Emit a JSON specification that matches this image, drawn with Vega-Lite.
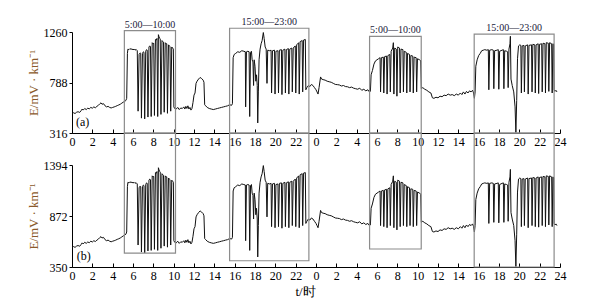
{
"$schema": "https://vega.github.io/schema/vega-lite/v6.json",
"padding": {"left": 27, "top": 17, "right": 5, "bottom": 2},
"config": {"view": {"stroke": null}, "font": "Liberation Serif",
 "axis": {"grid": false, "domainColor": "#000", "tickColor": "#000", "labelColor": "#000", "labelFont": "Liberation Serif", "labelFontSize": 12, "titleFont": "Liberation Serif", "titleFontWeight": "normal"},
 "axisX": {"labelOverlap": false, "labelFlush": false, "tickSize": -4, "labelPadding": 7}},
"spacing": 32,
"bounds": "flush",
"datasets": {
"boxes": [
 {"t1": 5.15, "t2": 10.18, "tm": 7.665, "topA": 1272, "botB": 493, "topB": 1720, "label": "5:00—10:00"},
 {"t1": 15.5, "t2": 23.3, "tm": 19.4, "topA": 1295, "botB": 414, "topB": 1720, "label": "15:00—23:00"},
 {"t1": 29.27, "t2": 34.35, "tm": 31.81, "topA": 1220, "botB": 534, "topB": 1720, "label": "5:00—10:00"},
 {"t1": 39.56, "t2": 47.42, "tm": 43.49, "topA": 1241, "botB": 350, "topB": 1720, "label": "15:00—23:00"}
],
"s": [
{"t":0.0,"a":500,"b":553},{"t":0.15,"a":505,"b":559},{"t":0.3,"a":498,"b":551},{"t":0.45,"a":510,"b":564},{"t":0.6,"a":515,"b":570},{"t":0.75,"a":508,"b":562},{"t":0.9,"a":525,"b":581},{"t":1.0,"a":540,"b":597},{"t":1.1,"a":530,"b":586},{"t":1.25,"a":545,"b":603},{"t":1.4,"a":535,"b":592},{"t":1.55,"a":548,"b":606},{"t":1.7,"a":542,"b":599},{"t":1.85,"a":555,"b":614},{"t":2.0,"a":548,"b":606},{"t":2.15,"a":560,"b":619},{"t":2.3,"a":552,"b":611},{"t":2.45,"a":565,"b":625},{"t":2.6,"a":575,"b":636},{"t":2.75,"a":590,"b":653},{"t":2.85,"a":598,"b":661},{"t":2.95,"a":585,"b":647},{"t":3.1,"a":590,"b":653},{"t":3.25,"a":570,"b":630},{"t":3.4,"a":560,"b":619},{"t":3.55,"a":565,"b":625},{"t":3.7,"a":555,"b":614},{"t":3.85,"a":550,"b":608},{"t":4.0,"a":555,"b":614},{"t":4.15,"a":560,"b":619},{"t":4.3,"a":565,"b":625},{"t":4.45,"a":572,"b":633},{"t":4.6,"a":578,"b":639},{"t":4.75,"a":585,"b":647},{"t":4.9,"a":595,"b":658},{"t":5.05,"a":605,"b":669},{"t":5.2,"a":612,"b":677},{"t":5.3,"a":620,"b":686},{"t":5.38,"a":640,"b":708},{"t":5.45,"a":1060,"b":1172},{"t":5.5,"a":1100,"b":1217},{"t":5.6,"a":1095,"b":1211},{"t":5.7,"a":1105,"b":1222},{"t":5.8,"a":1098,"b":1214},{"t":5.9,"a":1102,"b":1219},{"t":6.0,"a":1093,"b":1209},{"t":6.1,"a":1100,"b":1217},{"t":6.2,"a":1090,"b":1206},{"t":6.3,"a":1098,"b":1214},{"t":6.42,"a":1085,"b":1200},
{"t":6.5,"a":520,"b":575},{"t":6.6,"a":1050,"b":1161},{"t":6.7,"a":1065,"b":1178},{"t":6.76,"a":1060,"b":1172},{"t":6.83,"a":455,"b":503},{"t":6.93,"a":1060,"b":1172},{"t":7.02,"a":1075,"b":1189},{"t":7.08,"a":1070,"b":1183},{"t":7.15,"a":448,"b":495},{"t":7.25,"a":1080,"b":1194},{"t":7.33,"a":1095,"b":1211},{"t":7.4,"a":1090,"b":1206},{"t":7.47,"a":465,"b":514},{"t":7.57,"a":1120,"b":1239},{"t":7.65,"a":1130,"b":1250},{"t":7.72,"a":1125,"b":1244},{"t":7.79,"a":470,"b":520},{"t":7.89,"a":1160,"b":1283},{"t":7.97,"a":1150,"b":1272},{"t":8.04,"a":1155,"b":1277},{"t":8.11,"a":480,"b":531},{"t":8.21,"a":1190,"b":1316},{"t":8.3,"a":1185,"b":1311},{"t":8.36,"a":1200,"b":1327},{"t":8.43,"a":470,"b":520},{"t":8.5,"a":1235,"b":1366},{"t":8.56,"a":1215,"b":1344},{"t":8.63,"a":1200,"b":1327},{"t":8.68,"a":1195,"b":1322},{"t":8.75,"a":490,"b":542},{"t":8.85,"a":1180,"b":1305},{"t":8.93,"a":1170,"b":1294},{"t":9.0,"a":1165,"b":1288},{"t":9.07,"a":510,"b":564},{"t":9.17,"a":1160,"b":1283},{"t":9.25,"a":1150,"b":1272},{"t":9.32,"a":1150,"b":1272},{"t":9.39,"a":500,"b":553},{"t":9.49,"a":1140,"b":1261},{"t":9.57,"a":1130,"b":1250},{"t":9.64,"a":1125,"b":1244},{"t":9.71,"a":520,"b":575},{"t":9.81,"a":1120,"b":1239},{"t":9.9,"a":1110,"b":1228},{"t":9.97,"a":1100,"b":1217},
{"t":10.02,"a":560,"b":619},{"t":10.1,"a":545,"b":603},{"t":10.25,"a":540,"b":597},{"t":10.4,"a":555,"b":614},{"t":10.55,"a":535,"b":592},{"t":10.7,"a":550,"b":608},{"t":10.85,"a":545,"b":603},{"t":11.0,"a":560,"b":619},{"t":11.1,"a":540,"b":597},{"t":11.2,"a":565,"b":625},{"t":11.3,"a":545,"b":603},{"t":11.4,"a":570,"b":630},{"t":11.5,"a":540,"b":597},{"t":11.6,"a":555,"b":614},{"t":11.7,"a":530,"b":586},{"t":11.8,"a":545,"b":603},{"t":11.9,"a":600,"b":664},{"t":12.0,"a":670,"b":741},{"t":12.1,"a":690,"b":763},{"t":12.2,"a":780,"b":863},{"t":12.3,"a":800,"b":885},{"t":12.45,"a":820,"b":907},{"t":12.6,"a":835,"b":924},{"t":12.75,"a":825,"b":912},{"t":12.9,"a":810,"b":896},{"t":12.98,"a":790,"b":874},{"t":13.05,"a":580,"b":641},{"t":13.15,"a":570,"b":630},{"t":13.3,"a":555,"b":614},{"t":13.5,"a":545,"b":603},{"t":13.7,"a":540,"b":597},{"t":13.9,"a":535,"b":592},{"t":14.1,"a":540,"b":597},{"t":14.3,"a":545,"b":603},{"t":14.5,"a":550,"b":608},{"t":14.7,"a":555,"b":614},{"t":14.9,"a":560,"b":619},{"t":15.1,"a":565,"b":625},{"t":15.3,"a":570,"b":630},{"t":15.5,"a":580,"b":641},{"t":15.7,"a":575,"b":636},{"t":15.78,"a":590,"b":653},{"t":15.85,"a":1020,"b":1128},{"t":15.95,"a":1050,"b":1161},{"t":16.1,"a":1060,"b":1172},{"t":16.3,"a":1075,"b":1189},{"t":16.5,"a":1070,"b":1183},{"t":16.7,"a":1085,"b":1200},{"t":16.9,"a":1080,"b":1194},{"t":17.05,"a":1075,"b":1189},
{"t":17.08,"a":560,"b":619},{"t":17.16,"a":1075,"b":1189},{"t":17.3,"a":1080,"b":1194},{"t":17.42,"a":1075,"b":1189},{"t":17.48,"a":470,"b":520},{"t":17.56,"a":1070,"b":1183},{"t":17.65,"a":1080,"b":1194},{"t":17.72,"a":1000,"b":1106},{"t":17.8,"a":980,"b":1084},{"t":17.86,"a":760,"b":841},{"t":17.92,"a":1000,"b":1106},{"t":18.0,"a":940,"b":1040},{"t":18.08,"a":800,"b":885},{"t":18.15,"a":860,"b":951},{"t":18.22,"a":760,"b":841},{"t":18.27,"a":410,"b":453},{"t":18.33,"a":700,"b":774},{"t":18.4,"a":1000,"b":1106},{"t":18.5,"a":1100,"b":1217},{"t":18.6,"a":1150,"b":1272},{"t":18.7,"a":1180,"b":1305},{"t":18.82,"a":1255,"b":1388},{"t":18.9,"a":1200,"b":1327},{"t":19.0,"a":1120,"b":1239},{"t":19.1,"a":1100,"b":1217},{"t":19.18,"a":780,"b":863},{"t":19.25,"a":1090,"b":1206},{"t":19.45,"a":1085,"b":1200},{"t":19.58,"a":1090,"b":1206},{"t":19.63,"a":690,"b":763},{"t":19.72,"a":1085,"b":1200},{"t":19.92,"a":1090,"b":1206},{"t":19.97,"a":680,"b":752},{"t":20.06,"a":1080,"b":1194},{"t":20.26,"a":1085,"b":1200},{"t":20.31,"a":690,"b":763},{"t":20.4,"a":1090,"b":1206},{"t":20.6,"a":1095,"b":1211},{"t":20.65,"a":675,"b":747},{"t":20.74,"a":1090,"b":1206},{"t":20.94,"a":1100,"b":1217},{"t":20.99,"a":690,"b":763},{"t":21.08,"a":1095,"b":1211},{"t":21.28,"a":1105,"b":1222},{"t":21.33,"a":680,"b":752},{"t":21.42,"a":1100,"b":1217},{"t":21.62,"a":1110,"b":1228},{"t":21.67,"a":700,"b":774},{"t":21.76,"a":1110,"b":1228},{"t":21.96,"a":1130,"b":1250},{"t":22.01,"a":690,"b":763},{"t":22.1,"a":1140,"b":1261},{"t":22.3,"a":1160,"b":1283},{"t":22.35,"a":680,"b":752},{"t":22.44,"a":1170,"b":1294},{"t":22.64,"a":1180,"b":1305},{"t":22.69,"a":700,"b":774},{"t":22.78,"a":1185,"b":1311},{"t":22.95,"a":1190,"b":1316},
{"t":23.0,"a":720,"b":796},{"t":23.1,"a":740,"b":818},{"t":23.25,"a":760,"b":841},{"t":23.4,"a":750,"b":830},{"t":23.55,"a":770,"b":852},{"t":23.7,"a":760,"b":841},{"t":23.85,"a":740,"b":818},{"t":24.0,"a":720,"b":796},{"t":24.1,"a":700,"b":774},{"t":24.2,"a":680,"b":752},{"t":24.3,"a":740,"b":818},{"t":24.45,"a":840,"b":929},{"t":24.55,"a":820,"b":907},{"t":24.7,"a":815,"b":901},{"t":24.9,"a":810,"b":896},{"t":25.1,"a":800,"b":885},{"t":25.3,"a":795,"b":879},{"t":25.5,"a":790,"b":874},{"t":25.7,"a":780,"b":863},{"t":25.9,"a":770,"b":852},{"t":26.1,"a":768,"b":849},{"t":26.3,"a":765,"b":846},{"t":26.5,"a":755,"b":835},{"t":26.7,"a":760,"b":841},{"t":26.9,"a":750,"b":830},{"t":27.1,"a":748,"b":827},{"t":27.3,"a":740,"b":818},{"t":27.5,"a":745,"b":824},{"t":27.7,"a":735,"b":813},{"t":27.9,"a":730,"b":807},{"t":28.1,"a":725,"b":802},{"t":28.3,"a":735,"b":813},{"t":28.5,"a":715,"b":791},{"t":28.7,"a":725,"b":802},{"t":28.9,"a":710,"b":785},{"t":29.1,"a":720,"b":796},{"t":29.25,"a":700,"b":774},{"t":29.35,"a":705,"b":780},{"t":29.42,"a":860,"b":951},{"t":29.55,"a":900,"b":995},{"t":29.7,"a":960,"b":1062},{"t":29.85,"a":990,"b":1095},{"t":30.0,"a":1000,"b":1106},{"t":30.15,"a":1010,"b":1117},{"t":30.3,"a":1020,"b":1128},
{"t":30.35,"a":700,"b":774},{"t":30.43,"a":1020,"b":1128},{"t":30.62,"a":1025,"b":1134},{"t":30.67,"a":690,"b":763},{"t":30.75,"a":1030,"b":1139},{"t":30.94,"a":1035,"b":1145},{"t":30.99,"a":680,"b":752},{"t":31.07,"a":1040,"b":1150},{"t":31.26,"a":1050,"b":1161},{"t":31.31,"a":700,"b":774},{"t":31.39,"a":1080,"b":1194},{"t":31.55,"a":1110,"b":1228},{"t":31.61,"a":1160,"b":1283},{"t":31.66,"a":680,"b":752},{"t":31.74,"a":1110,"b":1228},{"t":31.9,"a":1100,"b":1217},{"t":31.96,"a":660,"b":730},{"t":32.04,"a":1120,"b":1239},{"t":32.22,"a":1110,"b":1228},{"t":32.28,"a":690,"b":763},{"t":32.36,"a":1100,"b":1217},{"t":32.55,"a":1095,"b":1211},{"t":32.6,"a":700,"b":774},{"t":32.68,"a":1080,"b":1194},{"t":32.88,"a":1070,"b":1183},{"t":32.93,"a":690,"b":763},{"t":33.0,"a":1060,"b":1172},{"t":33.2,"a":1050,"b":1161},{"t":33.25,"a":700,"b":774},{"t":33.33,"a":1040,"b":1150},{"t":33.52,"a":1035,"b":1145},{"t":33.57,"a":690,"b":763},{"t":33.65,"a":1025,"b":1134},{"t":33.85,"a":1020,"b":1128},{"t":33.9,"a":700,"b":774},{"t":33.98,"a":1010,"b":1117},{"t":34.2,"a":1000,"b":1106},{"t":34.3,"a":990,"b":1095},
{"t":34.36,"a":730,"b":807},{"t":34.5,"a":740,"b":818},{"t":34.7,"a":725,"b":802},{"t":34.9,"a":715,"b":791},{"t":35.1,"a":700,"b":774},{"t":35.3,"a":690,"b":763},{"t":35.45,"a":645,"b":713},{"t":35.6,"a":640,"b":708},{"t":35.8,"a":650,"b":719},{"t":36.0,"a":645,"b":713},{"t":36.2,"a":660,"b":730},{"t":36.4,"a":655,"b":724},{"t":36.6,"a":670,"b":741},{"t":36.8,"a":665,"b":735},{"t":37.0,"a":680,"b":752},{"t":37.2,"a":670,"b":741},{"t":37.4,"a":675,"b":747},{"t":37.6,"a":665,"b":735},{"t":37.8,"a":680,"b":752},{"t":38.0,"a":670,"b":741},{"t":38.2,"a":690,"b":763},{"t":38.35,"a":675,"b":747},{"t":38.5,"a":700,"b":774},{"t":38.65,"a":680,"b":752},{"t":38.8,"a":705,"b":780},{"t":38.95,"a":690,"b":763},{"t":39.1,"a":710,"b":785},{"t":39.25,"a":700,"b":774},{"t":39.4,"a":715,"b":791},{"t":39.5,"a":690,"b":763},{"t":39.58,"a":640,"b":708},{"t":39.65,"a":700,"b":774},{"t":39.72,"a":940,"b":1040},{"t":39.85,"a":1000,"b":1106},{"t":40.0,"a":1040,"b":1150},{"t":40.15,"a":1060,"b":1172},{"t":40.3,"a":1085,"b":1200},{"t":40.45,"a":1090,"b":1206},{"t":40.6,"a":1095,"b":1211},{"t":40.8,"a":1090,"b":1206},{"t":40.95,"a":1095,"b":1211},
{"t":41.0,"a":720,"b":796},{"t":41.08,"a":1090,"b":1206},{"t":41.3,"a":1095,"b":1211},{"t":41.44,"a":1090,"b":1206},{"t":41.49,"a":730,"b":807},{"t":41.57,"a":1085,"b":1200},{"t":41.8,"a":1090,"b":1206},{"t":41.93,"a":1095,"b":1211},{"t":41.98,"a":725,"b":802},{"t":42.06,"a":1080,"b":1194},{"t":42.3,"a":1090,"b":1206},{"t":42.43,"a":1095,"b":1211},{"t":42.48,"a":730,"b":807},{"t":42.56,"a":1085,"b":1200},{"t":42.75,"a":1080,"b":1194},{"t":42.85,"a":1075,"b":1189},{"t":42.9,"a":740,"b":818},{"t":42.98,"a":1100,"b":1217},{"t":43.08,"a":1150,"b":1272},{"t":43.12,"a":1220,"b":1349},{"t":43.18,"a":820,"b":907},{"t":43.3,"a":760,"b":841},{"t":43.45,"a":700,"b":774},{"t":43.58,"a":560,"b":619},{"t":43.66,"a":320,"b":354},{"t":43.74,"a":620,"b":686},{"t":43.82,"a":1010,"b":1117},{"t":43.92,"a":1130,"b":1250},{"t":44.05,"a":1140,"b":1261},{"t":44.15,"a":1135,"b":1255},
{"t":44.2,"a":690,"b":763},{"t":44.28,"a":1130,"b":1250},{"t":44.45,"a":1135,"b":1255},{"t":44.5,"a":700,"b":774},{"t":44.58,"a":1130,"b":1250},{"t":44.82,"a":1140,"b":1261},{"t":44.87,"a":680,"b":752},{"t":44.95,"a":1135,"b":1255},{"t":45.2,"a":1140,"b":1261},{"t":45.25,"a":700,"b":774},{"t":45.33,"a":1145,"b":1266},{"t":45.52,"a":1140,"b":1261},{"t":45.57,"a":690,"b":763},{"t":45.65,"a":1140,"b":1261},{"t":45.85,"a":1150,"b":1272},{"t":45.9,"a":685,"b":758},{"t":45.98,"a":1145,"b":1266},{"t":46.2,"a":1150,"b":1272},{"t":46.25,"a":700,"b":774},{"t":46.33,"a":1155,"b":1277},{"t":46.52,"a":1150,"b":1272},{"t":46.57,"a":690,"b":763},{"t":46.65,"a":1160,"b":1283},{"t":46.85,"a":1155,"b":1277},{"t":46.9,"a":705,"b":780},{"t":46.98,"a":1160,"b":1283},{"t":47.18,"a":1150,"b":1272},{"t":47.23,"a":690,"b":763},{"t":47.3,"a":1150,"b":1272},{"t":47.38,"a":1145,"b":1266},{"t":47.42,"a":720,"b":796},{"t":47.5,"a":705,"b":780},{"t":47.6,"a":715,"b":791},{"t":47.7,"a":700,"b":774}
]
},
"vconcat": [
{
 "width": 488, "height": 101,
 "layer": [
  {"data": {"name": "s"}, "mark": {"type": "line", "color": "#111", "strokeWidth": 1},
   "encoding": {
    "x": {"field": "t", "type": "quantitative", "scale": {"domain": [0, 48], "nice": false, "zero": false},
     "axis": {"title": null, "values": [0,2,4,6,8,10,12,14,16,18,20,22,24,26,28,30,32,34,36,38,40,42,44,46,48], "tickCount": 30, "labelExpr": "datum.value == 48 ? '24' : '' + (datum.value % 24)", "labelOverlap": false}},
    "y": {"field": "a", "type": "quantitative", "scale": {"domain": [316, 1260], "nice": false, "zero": false},
     "axis": {"title": "E/mV · km⁻¹", "titleColor": "#8a5a2b", "titleFontSize": 13, "titlePadding": 3, "values": [316, 788, 1260], "tickCount": 5, "format": "d", "tickSize": 3, "labelPadding": 2}}
   }},
  {"data": {"name": "boxes"}, "mark": {"type": "rect", "fill": null, "stroke": "#8c8c8c", "strokeWidth": 1.2},
   "encoding": {"x": {"field": "t1", "type": "quantitative"}, "x2": {"field": "t2"}, "y": {"field": "topA", "type": "quantitative"}, "y2": {"datum": 316}}},
  {"data": {"name": "boxes"}, "mark": {"type": "text", "baseline": "bottom", "dy": -1, "fontSize": 10, "color": "#1a1a3a", "font": "Liberation Serif"},
   "encoding": {"x": {"field": "tm", "type": "quantitative"}, "y": {"field": "topA", "type": "quantitative"}, "text": {"field": "label"}}},
  {"data": {"values": [{"t": 1.05, "v": 423, "l": "(a)"}]}, "mark": {"type": "text", "fontSize": 12, "color": "#000", "font": "Liberation Serif"},
   "encoding": {"x": {"field": "t", "type": "quantitative"}, "y": {"field": "v", "type": "quantitative"}, "text": {"field": "l"}}}
 ]
},
{
 "width": 488, "height": 102,
 "layer": [
  {"data": {"name": "s"}, "mark": {"type": "line", "color": "#111", "strokeWidth": 1},
   "encoding": {
    "x": {"field": "t", "type": "quantitative", "scale": {"domain": [0, 48], "nice": false, "zero": false},
     "axis": {"title": "t/时", "titleFontSize": 13, "titleX": 233, "titlePadding": 4, "values": [0,2,4,6,8,10,12,14,16,18,20,22,24,26,28,30,32,34,36,38,40,42,44,46,48], "tickCount": 30, "labelExpr": "datum.value == 48 ? '24' : '' + (datum.value % 24)", "labelOverlap": false}},
    "y": {"field": "b", "type": "quantitative", "scale": {"domain": [350, 1394], "nice": false, "zero": false},
     "axis": {"title": "E/mV · km⁻¹", "titleColor": "#8a5a2b", "titleFontSize": 13, "titlePadding": 3, "values": [350, 872, 1394], "tickCount": 5, "format": "d", "tickSize": 3, "labelPadding": 2}}
   }},
  {"data": {"name": "boxes"}, "mark": {"type": "rect", "fill": null, "stroke": "#8c8c8c", "strokeWidth": 1.2},
   "encoding": {"x": {"field": "t1", "type": "quantitative"}, "x2": {"field": "t2"}, "y": {"field": "botB", "type": "quantitative"}, "y2": {"field": "topB"}}},
  {"data": {"values": [{"t": 1.16, "v": 465, "l": "(b)"}]}, "mark": {"type": "text", "fontSize": 12, "color": "#000", "font": "Liberation Serif"},
   "encoding": {"x": {"field": "t", "type": "quantitative"}, "y": {"field": "v", "type": "quantitative"}, "text": {"field": "l"}}}
 ]
}
]
}
